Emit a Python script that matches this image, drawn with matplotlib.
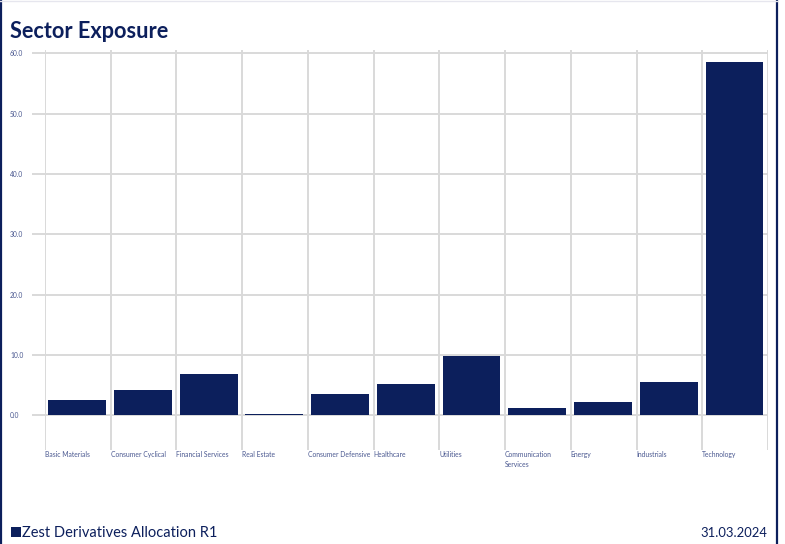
import matplotlib
matplotlib.use("Agg")
import matplotlib.pyplot as plt
from matplotlib.patches import Rectangle
from matplotlib.lines import Line2D

categories = ["Basic Materials", "Consumer Cyclical", "Financial Services", "Real Estate",
              "Consumer Defensive", "Healthcare", "Utilities", "Communication\nServices",
              "Energy", "Industrials", "Technology"]
values = [2.5, 4.2, 6.85, 0.3, 3.5, 5.2, 9.8, 1.2, 2.2, 5.5, 58.6]
y_ticks = [0, 10, 20, 30, 40, 50, 60]
y_tick_labels = ["0.0", "10.0", "20.0", "30.0", "40.0", "50.0", "60.0"]

NAVY = "#0c1f5c"
GRID = "#d9d9d9"
TICKC = "#4a5890"
FONT = ["Lato", "DejaVu Sans"]

W, H = 785, 544
fig = plt.figure(figsize=(W / 100, H / 100), dpi=100)
fig.patch.set_facecolor("white")

def fx(px):
    return px / W

def fy(py):
    return 1 - py / H

ax_left, ax_right, ax_top, ax_bottom = 45, 768, 49.5, 450
ax = fig.add_axes([fx(ax_left), fy(ax_bottom), fx(ax_right - ax_left), (ax_bottom - ax_top) / H])

x = [i + 0.49 for i in range(len(categories))]
ax.bar(x, values, width=0.88, color=NAVY, zorder=3)
ax.set_xlim(0, len(categories))
ax.set_ylim(-5.75, 60.66)

for s in ax.spines.values():
    s.set_visible(False)

ax.set_yticks(y_ticks)
ax.set_yticklabels(y_tick_labels, ha="left", fontsize=4.8, color=TICKC, family=FONT)
ax.tick_params(axis="y", length=9.4, width=1.4, color=GRID, pad=15.8)
ax.yaxis.grid(True, color=GRID, linewidth=1.4, zorder=0)

ax.set_xticks(range(len(categories) + 1))
ax.set_xticklabels(categories + [""], ha="left", va="top", fontsize=4.9,
                   color=TICKC, family=FONT, linespacing=1.5)
ax.tick_params(axis="x", length=0, pad=1.0)
ax.xaxis.grid(True, color=GRID, linewidth=1.4, zorder=0)
ax.set_axisbelow(True)

fig.text(fx(10), fy(37.5), "Sector Exposure", fontsize=15.6, fontweight="bold",
         color=NAVY, family=FONT, ha="left", va="baseline")

fig.add_artist(Rectangle((fx(10.5), fy(537)), fx(10), 10 / H, transform=fig.transFigure,
                         color=NAVY, linewidth=0))
fig.text(fx(22.5), fy(537), "Zest Derivatives Allocation R1", fontsize=10.5,
         color=NAVY, family=FONT, ha="left", va="baseline")
fig.text(fx(767), fy(537), "31.03.2024", fontsize=9.4,
         color=NAVY, family=FONT, ha="right", va="baseline")

fig.add_artist(Line2D([fx(1), fx(1)], [0, 1], transform=fig.transFigure, color=NAVY, linewidth=1.6))
fig.add_artist(Line2D([fx(777), fx(777)], [0, 1], transform=fig.transFigure, color=NAVY, linewidth=1.6))
fig.add_artist(Line2D([0, fx(777)], [fy(0.5), fy(0.5)], transform=fig.transFigure, color="#e6e6ee", linewidth=1.0))

fig.savefig("out.png", dpi=100, facecolor="white")
